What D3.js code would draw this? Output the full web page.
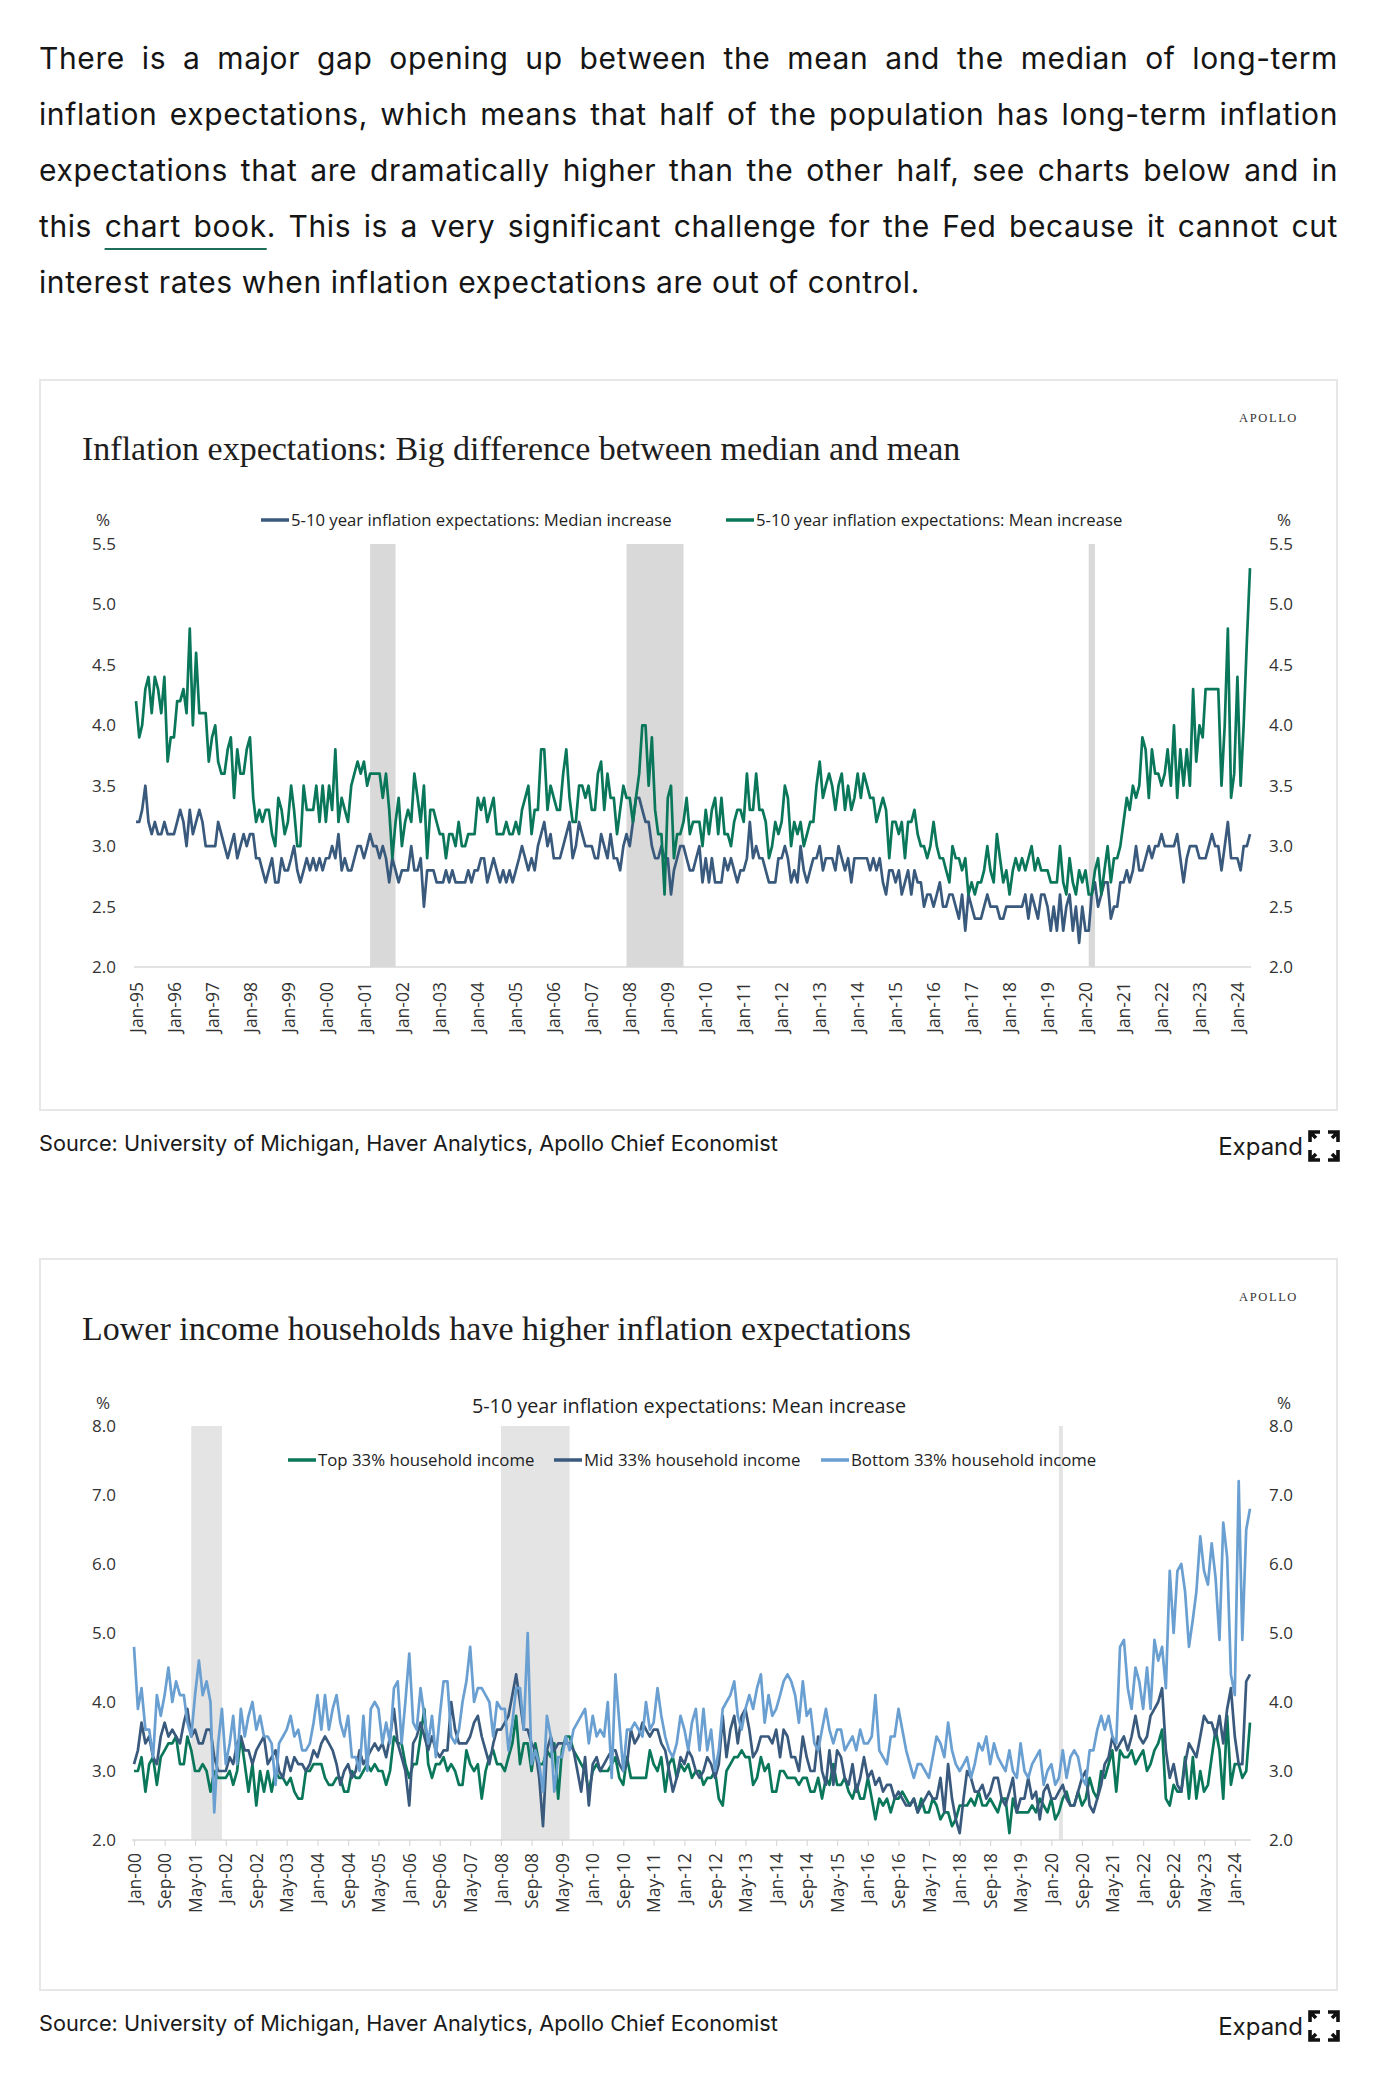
<!DOCTYPE html>
<html>
<head>
<meta charset="utf-8">
<script src="https://cdn.jsdelivr.net/npm/d3@7"></script>
<style>
  body { margin: 0; background: #fff; }
  #page { position: absolute; left: 0; top: 0; }
  #intro { position: absolute; left: 39px; top: 30px; width: 1299px;
           font-family: Inter, "Noto Sans", sans-serif; font-size: 30px; letter-spacing: 0.6px;
           line-height: 56px; color: #151515; }
  #intro .l { display: block; white-space: nowrap; text-align: justify; text-align-last: justify; }
  #intro .last { text-align-last: left; }
  #intro a { color: inherit; text-decoration: underline; text-decoration-color: #1f6e59;
             text-decoration-thickness: 2px; text-underline-offset: 11px; }
</style>
</head>
<body>
<svg id="page" width="1381" height="2086"></svg>
<div id="intro">
  <span class="l">There is a major gap opening up between the mean and the median of long-term</span>
  <span class="l">inflation expectations, which means that half of the population has long-term inflation</span>
  <span class="l">expectations that are dramatically higher than the other half, see charts below and in</span>
  <span class="l">this <a>chart book</a>. This is a very significant challenge for the Fed because it cannot cut</span>
  <span class="l last">interest rates when inflation expectations are out of control.</span>
</div>
<script>
// ---- chart 1 data: monthly, Jan-95 .. May-24
const start1 = "1995-01", end1 = "2024-05";
const medianIncrease = [
  3.2,3.2,3.3,3.5,3.2,3.1,3.2,3.1,3.1,3.2,3.1,3.1, // 1995
  3.1,3.2,3.3,3.2,3.0,3.3,3.1,3.2,3.3,3.2,3.0,3.0,
  3.0,3.0,3.2,3.1,3.0,2.9,3.0,3.1,2.9,3.0,3.1,3.0,
  3.1,3.1,2.9,2.9,2.8,2.7,2.8,2.9,2.7,2.7,2.9,2.8,
  2.8,2.9,3.0,2.8,2.7,2.8,2.9,2.8,2.9,2.8,2.9,2.8,
  2.9,2.9,3.0,2.9,3.1,2.8,2.9,2.8,2.8,2.9,3.0,3.0, // 2000
  2.9,3.0,3.1,3.0,3.0,2.9,3.0,2.9,2.7,2.9,2.8,2.7,
  2.8,2.8,2.8,3.0,2.8,2.8,2.9,2.5,2.8,2.8,2.8,2.7,
  2.7,2.7,2.8,2.7,2.8,2.7,2.7,2.7,2.7,2.8,2.7,2.8,
  2.8,2.9,2.9,2.7,2.8,2.9,2.8,2.7,2.8,2.7,2.8,2.7,
  2.8,2.9,3.0,2.9,2.8,2.9,2.8,3.0,3.1,3.2,3.0,3.1, // 2005
  2.9,2.9,2.9,3.0,3.1,3.2,2.9,3.0,3.2,3.1,3.0,3.0,
  3.0,2.9,2.9,3.1,3.0,2.9,3.1,2.9,2.9,2.8,3.0,3.1,
  3.0,3.2,3.4,3.4,3.3,3.2,3.2,3.0,2.9,2.9,3.0,2.9,
  2.9,2.6,2.8,2.9,3.0,3.0,2.9,2.8,2.8,2.9,3.0,2.7,
  2.9,2.7,2.9,2.7,2.7,2.7,2.9,2.8,2.9,2.8,2.7,2.8, // 2010
  2.8,2.9,3.2,2.9,3.0,2.9,2.9,2.8,2.7,2.7,2.7,2.9,
  2.9,3.0,2.9,2.7,2.8,2.7,3.0,2.8,2.7,2.8,2.9,2.9,
  3.0,2.8,2.9,2.9,2.9,2.8,3.0,2.9,2.8,2.9,2.7,2.9,
  2.9,2.9,2.9,2.9,2.8,2.9,2.8,2.9,2.7,2.6,2.8,2.8,
  2.7,2.8,2.6,2.7,2.8,2.6,2.8,2.7,2.7,2.5,2.6,2.6, // 2015
  2.5,2.6,2.7,2.5,2.5,2.6,2.6,2.5,2.4,2.6,2.3,2.6,
  2.5,2.4,2.4,2.4,2.5,2.6,2.5,2.5,2.5,2.4,2.4,2.5,
  2.5,2.5,2.5,2.5,2.5,2.6,2.4,2.6,2.5,2.4,2.6,2.6,
  2.5,2.3,2.5,2.3,2.6,2.3,2.5,2.6,2.3,2.5,2.2,2.5,
  2.3,2.3,2.6,2.7,2.5,2.6,2.7,2.7,2.4,2.5,2.5,2.7, // 2020
  2.7,2.8,2.7,2.8,3.0,2.8,2.8,2.9,3.0,2.9,3.0,3.0,
  3.1,3.0,3.0,3.0,3.0,3.1,2.9,2.7,2.9,3.0,3.0,3.0,
  2.9,2.9,2.9,3.0,3.1,3.0,3.0,2.8,3.0,3.2,2.9,2.9,
  2.9,2.8,3.0,3.0,3.1                               // 2024
];
const meanIncrease = [
  4.2,3.9,4.0,4.3,4.4,4.1,4.4,4.3,4.1,4.4,3.7,3.9, // 1995
  3.9,4.2,4.2,4.3,4.1,4.8,4.0,4.6,4.1,4.1,4.1,3.7,
  3.9,4.0,3.7,3.6,3.6,3.8,3.9,3.4,3.8,3.6,3.6,3.8,
  3.9,3.4,3.2,3.3,3.2,3.3,3.3,3.1,3.0,3.4,3.3,3.1,
  3.2,3.5,3.3,3.0,3.0,3.5,3.3,3.3,3.3,3.5,3.2,3.5,
  3.2,3.5,3.3,3.8,3.2,3.4,3.3,3.2,3.5,3.6,3.7,3.6, // 2000
  3.7,3.5,3.6,3.6,3.6,3.6,3.4,3.6,3.3,2.9,3.2,3.4,
  3.0,3.2,3.3,3.2,3.6,3.4,3.2,3.5,2.9,3.3,3.3,3.2,
  3.1,3.1,2.9,3.1,3.1,3.0,3.2,3.0,3.0,3.1,3.1,3.1,
  3.4,3.3,3.4,3.2,3.3,3.4,3.1,3.1,3.1,3.2,3.1,3.1,
  3.2,3.1,3.3,3.4,3.5,3.1,3.3,3.3,3.8,3.8,3.3,3.5, // 2005
  3.4,3.3,3.3,3.6,3.8,3.4,3.2,3.2,3.5,3.5,3.4,3.5,
  3.3,3.3,3.6,3.7,3.3,3.6,3.4,3.4,3.1,3.3,3.5,3.4,
  3.4,3.2,3.4,3.6,4.0,4.0,3.5,3.9,3.3,3.1,3.1,2.6,
  3.4,3.5,2.9,3.1,3.1,3.2,3.4,3.1,3.2,3.2,3.2,3.0,
  3.3,3.1,3.3,3.4,3.1,3.4,3.1,3.1,3.0,3.2,3.3,3.3, // 2010
  3.2,3.6,3.3,3.3,3.6,3.3,3.3,3.2,2.9,3.0,3.2,3.1,
  3.2,3.5,3.4,3.0,3.2,3.1,3.2,3.0,3.1,3.2,3.2,3.5,
  3.7,3.4,3.5,3.6,3.5,3.3,3.5,3.6,3.3,3.5,3.3,3.4,
  3.6,3.4,3.6,3.5,3.4,3.4,3.2,3.3,3.4,3.3,2.9,3.2,
  3.2,3.1,3.2,2.9,3.2,3.2,3.3,3.1,3.0,3.0,2.9,3.0, // 2015
  3.2,3.0,2.9,2.9,2.8,2.7,3.0,2.9,2.9,2.8,2.9,2.6,
  2.7,2.6,2.7,2.7,2.8,3.0,2.8,2.7,3.1,2.9,2.7,2.8,
  2.6,2.8,2.9,2.8,2.9,2.8,2.9,3.0,2.8,2.9,2.8,2.8,
  2.8,2.7,2.7,2.7,3.0,2.7,2.6,2.9,2.7,2.6,2.8,2.7,
  2.8,2.6,2.6,2.8,2.9,2.6,2.8,3.0,2.7,2.9,2.9,3.0, // 2020
  3.2,3.4,3.3,3.5,3.4,3.5,3.9,3.8,3.4,3.8,3.6,3.6,
  3.5,3.6,3.8,3.5,4.0,3.4,3.8,3.5,3.8,3.5,4.3,3.7,
  4.0,3.9,4.3,4.3,4.3,4.3,4.3,3.5,4.0,4.8,3.4,3.6,
  4.4,3.5,4.0,4.7,5.3                               // 2024
];
const ticks1 = ["Jan-95","Jan-96","Jan-97","Jan-98","Jan-99","Jan-00","Jan-01","Jan-02","Jan-03","Jan-04",
  "Jan-05","Jan-06","Jan-07","Jan-08","Jan-09","Jan-10","Jan-11","Jan-12","Jan-13","Jan-14","Jan-15",
  "Jan-16","Jan-17","Jan-18","Jan-19","Jan-20","Jan-21","Jan-22","Jan-23","Jan-24"];
const yTicks1 = [2.0, 2.5, 3.0, 3.5, 4.0, 4.5, 5.0, 5.5];
const recessions1 = [["2001-03","2001-11"], ["2007-12","2009-06"], ["2020-02","2020-04"]];

// ---- chart 2 data: monthly, Jan-00 .. May-24
const start2 = "2000-01", end2 = "2024-05";
const top33 = [
  3.0,3.0,3.2,2.7,3.1,3.2,2.8,3.2,3.3,3.4,3.4,3.5, // 2000
  3.1,3.1,3.5,3.3,3.0,3.0,3.1,3.0,2.7,3.0,2.9,2.9,
  2.9,3.0,2.8,3.0,3.5,3.1,2.7,3.1,2.5,3.0,2.7,3.0,
  2.7,3.0,2.9,2.9,2.8,2.9,2.7,2.6,2.6,3.0,3.0,3.1,
  3.1,3.1,2.9,2.8,2.8,2.9,2.9,2.7,2.7,3.0,2.9,2.9,
  3.0,3.1,3.0,3.1,3.0,3.0,2.8,3.0,3.5,3.4,3.4,3.1, // 2005
  2.9,3.1,3.1,3.5,3.9,3.1,2.9,3.1,3.1,3.2,3.0,3.1,
  3.0,2.8,2.8,3.3,3.1,3.0,3.1,2.6,3.0,3.2,3.3,3.1,
  3.1,3.0,3.2,3.4,3.8,3.1,3.4,3.4,3.0,3.4,3.1,3.1,
  3.3,3.2,3.4,2.6,3.3,3.5,3.5,3.3,3.2,3.1,3.0,2.7,
  3.0,3.1,3.0,3.0,3.0,3.1,3.2,2.9,2.8,3.2,2.9,2.9, // 2010
  2.9,2.9,2.9,3.3,3.1,3.0,3.2,2.7,3.1,3.2,2.9,3.1,
  3.0,3.1,2.9,3.0,3.0,2.8,2.9,2.9,3.0,2.6,2.5,3.0,
  3.1,3.2,3.2,3.3,3.2,3.2,2.8,2.9,3.2,3.0,3.1,2.7,
  2.7,3.0,3.0,2.9,2.9,2.9,2.8,2.9,2.9,2.7,2.7,2.9,
  2.6,2.9,2.8,3.1,2.8,2.8,2.9,2.7,2.6,2.8,2.6,2.6, // 2015
  2.9,2.6,2.3,2.6,2.5,2.6,2.4,2.6,2.6,2.7,2.6,2.5,
  2.6,2.4,2.6,2.4,2.4,2.6,2.5,2.3,2.4,2.4,2.2,2.3,
  2.5,2.5,2.5,2.6,2.5,2.7,2.5,2.5,2.6,2.5,2.4,2.6,
  2.6,2.1,2.6,2.4,2.4,2.4,2.4,2.5,2.4,2.6,2.5,2.4,
  2.6,2.3,2.4,2.6,2.7,2.5,2.5,2.7,2.5,2.6,2.9,2.7, // 2020
  2.6,3.0,2.9,3.1,3.3,2.7,3.3,3.2,3.2,3.3,3.1,3.2,
  3.3,3.0,3.1,3.3,3.4,3.6,2.6,2.5,2.8,2.7,2.7,3.2,
  2.6,3.2,2.6,3.0,2.7,2.8,3.2,3.6,3.3,2.6,3.8,2.8,
  3.1,3.1,2.9,3.0,3.7                               // 2024
];
const mid33 = [
  3.1,3.3,3.7,3.4,3.5,3.2,3.1,3.5,3.7,3.5,3.6,3.5, // 2000
  3.4,3.7,3.9,3.5,3.6,3.4,3.4,3.6,3.6,3.2,3.0,3.0,
  3.0,3.2,3.1,3.4,3.5,3.3,3.3,3.1,3.3,3.4,3.5,3.1,
  3.2,3.3,3.0,2.9,3.2,3.0,3.2,3.1,3.1,3.0,3.1,3.3,
  3.2,3.4,3.5,3.4,3.3,3.1,2.8,3.0,3.1,2.9,3.0,3.3,
  3.1,3.2,3.3,3.4,3.3,3.4,3.2,3.5,3.9,3.4,3.2,3.0, // 2005
  2.5,3.4,3.5,3.7,3.5,3.3,3.5,3.3,3.2,3.3,3.3,4.0,
  3.6,3.4,3.4,3.4,3.5,3.7,3.8,3.5,3.3,3.1,3.4,3.6,
  3.6,3.7,3.8,4.1,4.4,4.0,3.6,3.6,3.4,3.3,2.9,2.2,
  3.3,3.5,3.3,3.4,3.4,3.4,3.4,3.3,3.0,2.7,3.2,2.5,
  3.1,3.2,3.0,3.1,3.2,3.3,3.3,3.1,3.0,3.1,3.6,3.4, // 2010
  3.5,3.7,3.6,3.5,3.6,3.6,3.4,3.3,3.0,2.7,2.9,3.2,
  3.1,3.3,3.2,3.0,2.9,3.0,3.2,3.1,2.9,3.1,3.8,3.2,
  3.6,3.8,3.4,3.8,3.9,3.6,3.2,3.3,3.5,3.5,3.5,3.4,
  3.6,3.2,3.6,3.5,3.2,3.2,3.0,3.5,3.2,3.0,3.0,3.5,
  3.0,2.8,3.3,2.8,3.3,3.2,2.9,2.8,3.1,2.7,2.9,3.2, // 2015
  2.9,3.0,2.8,2.9,2.7,2.8,2.8,2.6,2.7,2.6,2.5,2.5,
  2.6,2.4,2.5,2.6,2.7,2.6,2.6,2.9,2.4,3.1,2.6,2.3,
  2.1,2.6,3.0,2.9,2.7,2.7,2.8,2.6,2.7,2.9,2.9,2.6,
  2.5,2.7,2.9,2.4,2.6,2.6,2.9,2.6,2.7,2.3,2.7,2.8,
  2.6,2.6,2.7,2.8,2.6,2.5,2.5,2.7,2.9,3.0,2.5,2.4, // 2020
  2.6,2.8,3.1,3.2,3.5,3.3,3.4,3.5,3.3,3.5,3.8,3.5,
  3.4,3.5,3.8,3.9,4.0,4.2,3.3,2.9,3.1,2.8,2.7,3.1,
  3.4,3.3,3.2,3.5,3.8,3.7,3.7,3.5,3.8,3.4,3.9,4.2,
  3.5,3.1,3.1,4.3,4.4                               // 2024
];
const bottom33 = [
  4.8,3.9,4.2,3.6,3.6,3.2,4.1,3.8,4.1,4.5,4.0,4.3, // 2000
  4.1,4.1,3.7,3.5,4.1,4.6,4.1,4.3,4.0,2.4,3.4,3.9,
  3.1,3.4,3.8,3.1,3.9,3.5,3.8,4.0,3.6,3.8,3.5,3.5,
  3.4,2.8,3.4,3.5,3.6,3.8,3.5,3.6,3.3,3.3,3.4,3.7,
  4.1,3.6,4.1,3.6,3.9,4.1,3.7,3.5,3.8,3.2,3.2,3.0,
  3.8,3.0,3.9,4.0,3.9,3.4,3.7,3.4,4.2,4.3,3.4,4.0, // 2005
  4.7,3.7,3.6,4.2,3.8,3.4,3.8,3.2,3.8,4.3,4.3,3.5,
  3.4,3.6,4.0,4.3,4.8,4.0,4.2,4.2,4.1,4.0,3.5,4.0,
  3.9,3.9,3.3,3.7,4.2,4.2,3.6,5.0,3.1,3.3,3.1,2.7,
  3.8,3.5,2.7,3.2,3.2,3.5,3.3,3.6,3.7,3.8,3.9,3.4,
  3.8,3.5,3.6,3.5,4.0,2.9,4.4,3.7,3.0,3.6,3.6,3.7, // 2010
  3.6,3.5,4.0,3.6,3.7,4.2,3.8,3.5,3.3,3.2,3.4,3.8,
  3.6,3.3,3.7,3.9,3.3,3.9,3.3,3.6,3.0,3.3,3.9,4.0,
  4.1,4.3,3.8,3.6,3.9,4.1,3.9,4.2,4.4,3.7,4.1,3.8,
  3.9,4.1,4.3,4.4,4.3,4.1,3.7,4.3,3.8,3.9,3.4,3.3,
  3.6,3.9,3.6,3.4,3.6,3.6,3.3,3.4,3.5,3.3,3.6,3.4, // 2015
  3.4,3.5,4.1,3.3,3.2,3.1,3.5,3.5,3.9,3.6,3.3,3.1,
  2.9,3.1,3.1,3.0,2.9,3.2,3.5,3.4,3.2,3.7,3.3,3.1,
  3.0,3.1,3.2,2.9,3.1,3.4,3.3,3.5,3.1,3.4,3.2,3.1,
  3.0,3.3,3.0,2.9,3.4,3.0,2.9,3.1,3.2,3.3,2.8,3.0,
  3.1,2.8,2.9,3.3,2.9,3.2,3.3,3.2,2.9,2.8,3.3,3.3, // 2020
  3.6,3.8,3.6,3.8,3.5,3.4,4.8,4.9,4.2,3.9,4.5,4.3,
  3.9,4.5,3.9,4.9,4.6,4.8,4.2,5.9,5.0,5.9,6.0,5.6,
  4.8,5.2,5.6,6.4,5.9,5.7,6.3,5.8,4.9,6.6,6.1,4.4,
  4.1,7.2,4.9,6.5,6.8                               // 2024
];
const ticks2 = ["Jan-00","Sep-00","May-01","Jan-02","Sep-02","May-03","Jan-04","Sep-04","May-05","Jan-06",
  "Sep-06","May-07","Jan-08","Sep-08","May-09","Jan-10","Sep-10","May-11","Jan-12","Sep-12","May-13",
  "Jan-14","Sep-14","May-15","Jan-16","Sep-16","May-17","Jan-18","Sep-18","May-19","Jan-20","Sep-20",
  "May-21","Jan-22","Sep-22","May-23","Jan-24"];
const yTicks2 = [2, 3, 4, 5, 6, 7, 8];
const recessions2 = [["2001-04","2001-12"], ["2008-01","2009-07"], ["2020-03","2020-04"]];

// ---- drawing
const svg = d3.select("#page");
const parseM = d3.utcParse("%Y-%m");
const parseT = d3.utcParse("%b-%y");
const AX = "'Open Sans', 'Noto Sans', sans-serif";
const SERIF = "'Liberation Serif', 'DejaVu Serif', serif";
const SANS = "Inter, 'Noto Sans', sans-serif";

function monthsBetween(a, b) {
  return d3.utcMonth.range(parseM(a), d3.utcMonth.offset(parseM(b), 1));
}

function frame(top, h, title, titleBase, srcBase) {
  svg.append("rect").attr("x", 40).attr("y", top).attr("width", 1297).attr("height", h)
    .attr("fill", "none").attr("stroke", "#e7e7e7").attr("stroke-width", 2);
  svg.append("text").attr("x", 1298).attr("y", top + 42).attr("text-anchor", "end")
    .attr("font-family", SERIF).attr("font-size", 12.5).attr("letter-spacing", 1.6)
    .attr("fill", "#333").text("APOLLO");
  svg.append("text").attr("x", 82).attr("y", titleBase)
    .attr("font-family", SERIF).attr("font-size", 34).attr("fill", "#1e1e1e").text(title);

  svg.append("text").attr("x", 39).attr("y", srcBase)
    .attr("font-family", SANS).attr("font-size", 21.7).attr("fill", "#1a1a1a")
    .text("Source: University of Michigan, Haver Analytics, Apollo Chief Economist");
  svg.append("text").attr("x", 1303).attr("y", srcBase + 4).attr("text-anchor", "end")
    .attr("font-family", SANS).attr("font-size", 24).attr("fill", "#1a1a1a").text("Expand");
  // expand icon: four outward corners
  const ix = 1310, iy = srcBase - 19, s = 28, c = 10;
  const ic = svg.append("g").attr("stroke", "#111").attr("stroke-width", 3.6).attr("fill", "none");
  [[0, 0, 1, 1], [s, 0, -1, 1], [0, s, 1, -1], [s, s, -1, -1]].forEach(([dx, dy, sx, sy]) => {
    const px = ix + dx, py = iy + dy;
    ic.append("path").attr("d", `M${px},${py + sy * c}L${px},${py}L${px + sx * c},${py}M${px},${py}L${px + sx * 6},${py + sy * 6}`);
  });
}

function drawChart(o) {
  const g = svg.append("g");
  const dates = monthsBetween(o.start, o.end);
  const x = d3.scaleUtc().domain([dates[0], dates[dates.length - 1]]).range([o.x0, o.x1]);
  const y = d3.scaleLinear().domain([o.yTicks[0], o.yTicks[o.yTicks.length - 1]]).range([o.yBottom, o.yTop]);

  g.selectAll("rect.rec").data(o.recessions).join("rect")
    .attr("x", d => x(parseM(d[0])))
    .attr("width", d => Math.max(4, x(parseM(d[1])) - x(parseM(d[0]))))
    .attr("y", o.yTop).attr("height", o.yBottom - o.yTop).attr("fill", o.recColor);

  const fmt = d3.format(".1f");
  const yl = g.append("g").attr("transform", "translate(116,0)")
    .call(d3.axisLeft(y).tickValues(o.yTicks).tickFormat(fmt).tickSize(0).tickPadding(0));
  const yr = g.append("g").attr("transform", "translate(1269,0)")
    .call(d3.axisRight(y).tickValues(o.yTicks).tickFormat(fmt).tickSize(0).tickPadding(0));
  [yl, yr].forEach(a => {
    a.select(".domain").remove();
    a.attr("font-family", AX).attr("font-size", 17);
    a.selectAll("text").attr("fill", "#333");
  });
  g.append("text").attr("x", 103).attr("y", o.pctY).attr("text-anchor", "middle")
    .attr("font-family", AX).attr("font-size", 17).attr("fill", "#333").text("%");
  g.append("text").attr("x", 1284).attr("y", o.pctY).attr("text-anchor", "middle")
    .attr("font-family", AX).attr("font-size", 17).attr("fill", "#333").text("%");

  const xa = g.append("g").attr("transform", `translate(0,${o.yBottom})`)
    .call(d3.axisBottom(x).tickValues(o.ticks.map(parseT)).tickFormat(d3.utcFormat("%b-%y"))
      .tickSizeInner(o.tickLen).tickSizeOuter(0));
  xa.attr("font-family", AX).attr("font-size", 17.5);
  xa.select(".domain").attr("stroke", "#d9d9d9").attr("stroke-width", 1.5)
    .attr("d", `M${o.x0 - 2},0H${o.x1 + 1}`);
  xa.selectAll(".tick line").attr("stroke", "#d9d9d9").attr("stroke-width", 1.2);
  xa.selectAll(".tick text").attr("fill", "#333").attr("transform", "rotate(-90)")
    .attr("x", -o.labelGap).attr("y", 0).attr("dy", "0.35em").attr("text-anchor", "end");

  const line = d3.line().x((d, i) => x(dates[i])).y(d => y(d));
  o.series.forEach(s => {
    g.append("path").datum(s.values).attr("fill", "none").attr("stroke", s.color)
      .attr("stroke-width", 2.7).attr("stroke-linejoin", "round").attr("d", line);
  });

  o.series.forEach(s => {
    g.append("line").attr("x1", s.lx).attr("x2", s.lx + 28).attr("y1", o.legendY).attr("y2", o.legendY)
      .attr("stroke", s.color).attr("stroke-width", 3.5);
    g.append("text").attr("x", s.lx + 30).attr("y", o.legendY).attr("dy", "0.35em")
      .attr("font-family", AX).attr("font-size", o.legendSize).attr("fill", "#222").text(s.name);
  });
}

// chart 1
frame(380, 730, "Inflation expectations: Big difference between median and mean", 460, 1151);
drawChart({
  start: start1, end: end1, x0: 136, x1: 1250, yTop: 544, yBottom: 967,
  yTicks: yTicks1, ticks: ticks1, tickLen: 0, labelGap: 15,
  recessions: recessions1, recColor: "#d9d9d9", pctY: 526, legendY: 520, legendSize: 16.7,
  series: [
    { name: "5-10 year inflation expectations: Median increase", values: medianIncrease, color: "#3a5a7d", lx: 261 },
    { name: "5-10 year inflation expectations: Mean increase", values: meanIncrease, color: "#0a775b", lx: 726 }
  ]
});

// chart 2
frame(1259, 731, "Lower income households have higher inflation expectations", 1340, 2031);
svg.append("text").attr("x", 689).attr("y", 1406).attr("dy", "0.35em").attr("text-anchor", "middle")
  .attr("font-family", AX).attr("font-size", 19.8).attr("fill", "#222")
  .text("5-10 year inflation expectations: Mean increase");
drawChart({
  start: start2, end: end2, x0: 134, x1: 1250, yTop: 1426, yBottom: 1840,
  yTicks: yTicks2, ticks: ticks2, tickLen: 6, labelGap: 13,
  recessions: recessions2, recColor: "#e4e4e4", pctY: 1409, legendY: 1460, legendSize: 16.8,
  series: [
    { name: "Top 33% household income", values: top33, color: "#0a775b", lx: 288 },
    { name: "Mid 33% household income", values: mid33, color: "#3a5a7d", lx: 554 },
    { name: "Bottom 33% household income", values: bottom33, color: "#6a9fd1", lx: 821 }
  ]
});
</script>
</body>
</html>
